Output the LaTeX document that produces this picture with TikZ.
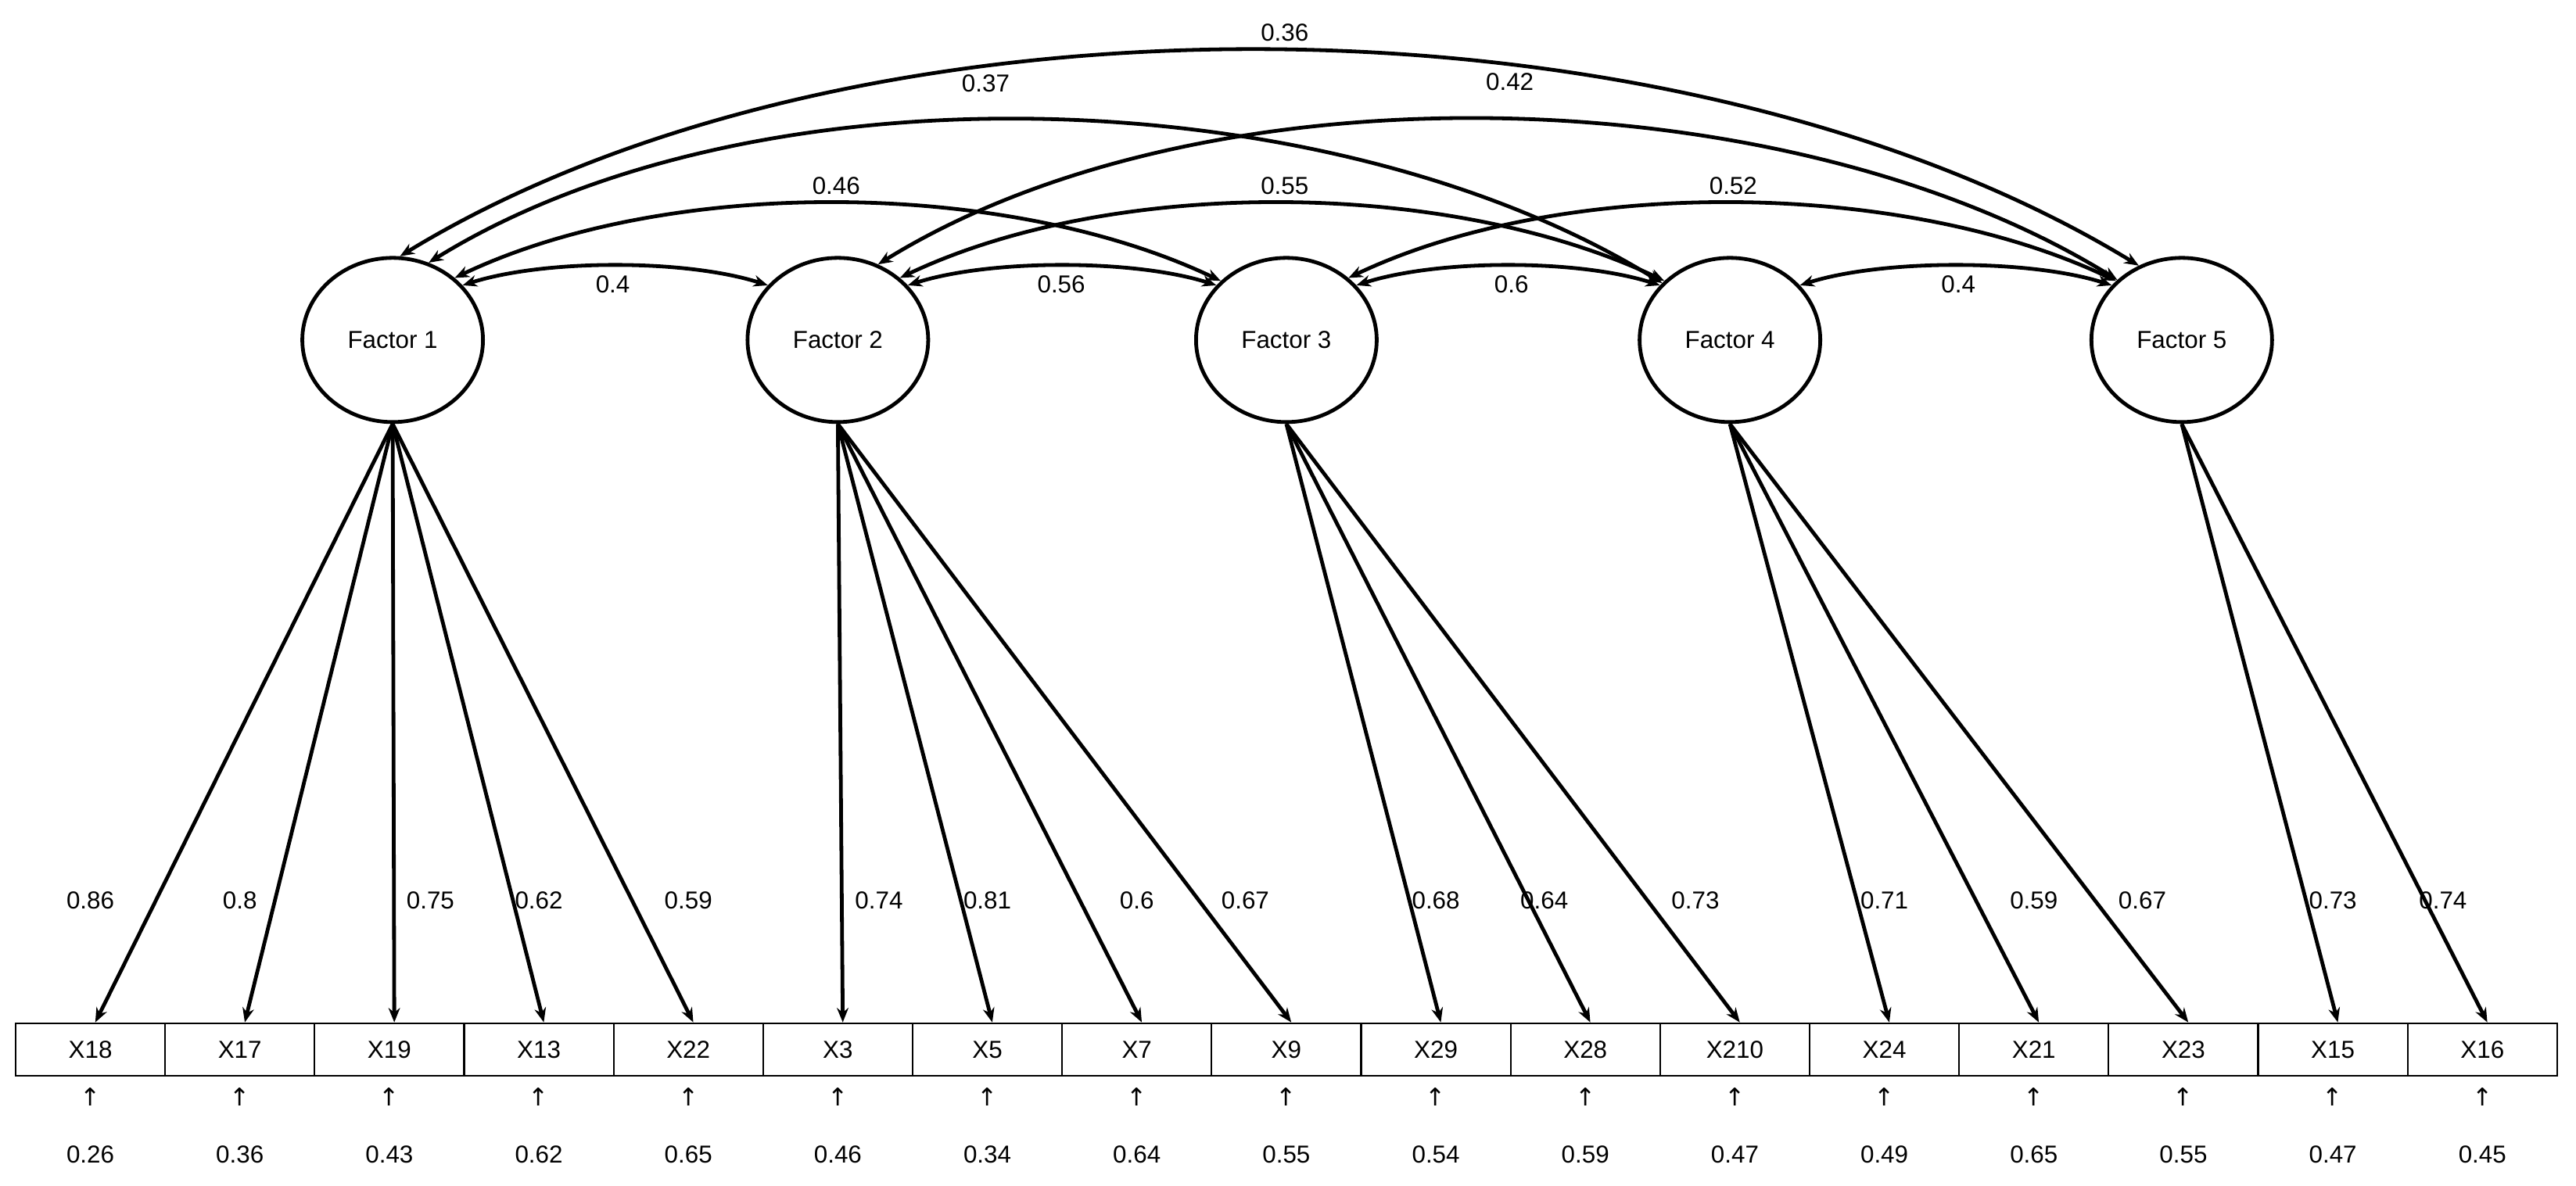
\documentclass[tikz,border=0pt]{standalone}
\usepackage{fontspec}
\setmainfont{Liberation Sans}
\newfontfamily\dv{DejaVu Sans}
\usetikzlibrary{arrows.meta,shapes.geometric}
\begin{document}
\begin{tikzpicture}[x=0.02cm,y=-0.02cm,
  every node/.style={font=\fontsize{8.5}{10}\selectfont},
  fac/.style={draw,ellipse,line width=1.3pt,minimum width=2.2cm,minimum height=2cm,inner sep=0pt},
  obs/.style={draw,line width=0.6pt,minimum width=1.82cm,minimum height=0.64cm,inner sep=0pt},
  ld/.style={line width=1.3pt,-{Stealth[length=5pt,width=4pt]}},
  cor/.style={line width=1.3pt,{Stealth[length=5pt,width=4pt]}-{Stealth[length=5pt,width=4pt]}}]
\useasboundingbox (0,0) rectangle (1568,722);
\foreach \n/\x/\t in {1/239/Factor 1,2/510/Factor 2,3/783/Factor 3,4/1053/Factor 4,5/1328/Factor 5}
  \node[fac] (f\n) at (\x,207) {\t};
\foreach \i/\t/\e in {1/X18/0.26,2/X17/0.36,3/X19/0.43,4/X13/0.62,5/X22/0.65,6/X3/0.46,7/X5/0.34,8/X7/0.64,9/X9/0.55,10/X29/0.54,11/X28/0.59,12/X210/0.47,13/X24/0.49,14/X21/0.65,15/X23/0.55,16/X15/0.47,17/X16/0.45}{
  \node[obs] (b\i) at ({55+91*(\i-1)},639) {\t};
  \node (u\i) at ({55+91*(\i-1)},668) {\dv ↑};
  \node (e\i) at ({55+91*(\i-1)},703) {\e};
}
\foreach \f/\b in {1/1,1/2,1/3,1/4,1/5,2/6,2/7,2/8,2/9,3/10,3/11,3/12,4/13,4/14,4/15,5/16,5/17}
  \draw[ld] (f\f.south) -- ([xshift=0.06cm]b\b.north);
\foreach \x/\t in {55/0.86,146/0.8,262/0.75,328/0.62,419/0.59,535/0.74,601/0.81,692/0.6,758/0.67,874/0.68,940/0.64,1032/0.73,1147/0.71,1238/0.59,1304/0.67,1420/0.73,1487/0.74}
  \node at (\x,548) {\t};
% correlations
\draw[cor] (f1.38) .. controls +(50,-16) and +(-50,-16) .. (f2.142);
\draw[cor] (f2.38) .. controls +(50,-16) and +(-50,-16) .. (f3.142);
\draw[cor] (f3.38) .. controls +(50,-16) and +(-50,-16) .. (f4.142);
\draw[cor] (f4.38) .. controls +(50,-16) and +(-50,-16) .. (f5.142);
\draw[cor] (f1.45) .. controls +(130,-62) and +(-130,-62) .. (f3.138);
\draw[cor] (f2.45) .. controls +(130,-62) and +(-130,-62) .. (f4.138);
\draw[cor] (f3.45) .. controls +(130,-62) and +(-130,-62) .. (f5.138);
\draw[cor] (f1.65) .. controls +(200,-124) and +(-200,-124) .. (f4.140);
\draw[cor] (f2.62) .. controls +(200,-124) and +(-200,-124) .. (f5.137);
\draw[cor] (f1.85) .. controls +(280,-171) and +(-280,-171) .. (f5.120);
\node at (373,173) {0.4};
\node at (646,173) {0.56};
\node at (920,173) {0.6};
\node at (1192,173) {0.4};
\node at (509,113) {0.46};
\node at (782,113) {0.55};
\node at (1055,113) {0.52};
\node at (600,51) {0.37};
\node at (919,50) {0.42};
\node at (782,20) {0.36};
\end{tikzpicture}
\end{document}
